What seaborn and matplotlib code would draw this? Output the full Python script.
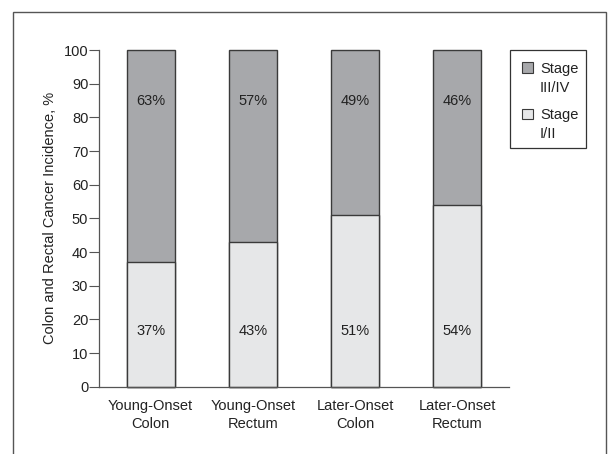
import matplotlib
matplotlib.use("Agg")
import matplotlib.pyplot as plt
import seaborn as sns
import pandas as pd
from matplotlib.patches import Rectangle

categories = ["Young-Onset\nColon", "Young-Onset\nRectum", "Later-Onset\nColon", "Later-Onset\nRectum"]
stage_early = [37, 43, 51, 54]      # Stage I/II
stage_late = [63, 57, 49, 46]       # Stage III/IV
yticks = [0, 10, 20, 30, 40, 50, 60, 70, 80, 90, 100]
legend_labels = ["Stage\nIII/IV", "Stage\nI/II"]

sns.set_theme(style="white")
plt.rcParams["font.family"] = ["Liberation Sans", "DejaVu Sans"]

dark = "#a7a8ab"
light = "#e6e7e8"
edge = "#3a3a3a"
txt = "#222222"

df = pd.DataFrame({"cat": categories,
                   "early": stage_early,
                   "late": stage_late})
df["total"] = df["early"] + df["late"]

W, H = 611, 454
fig = plt.figure(figsize=(W / 100, H / 100), dpi=100)
ax = fig.add_axes([99.4 / W, 1 - 386.7 / H, (508.6 - 99.4) / W, (386.7 - 50) / H])

sns.barplot(data=df, x="cat", y="total", color=dark, width=0.47, ax=ax,
            edgecolor=edge, linewidth=1.0, saturation=1)
sns.barplot(data=df, x="cat", y="early", color=light, width=0.47, ax=ax,
            edgecolor=edge, linewidth=1.0, saturation=1)
for p in ax.patches:
    p.set_clip_on(False)

for i, (e, l) in enumerate(zip(stage_early, stage_late)):
    ax.text(i, 85, f"{l}%", ha="center", va="center", fontsize=10.5, color=txt)
    ax.text(i, 16.5, f"{e}%", ha="center", va="center", fontsize=10.5, color=txt)

ax.set_xlim(-0.5, 3.5)
ax.set_ylim(0, 100)
ax.set_yticks(yticks)
ax.set_yticklabels([str(t) for t in yticks], fontsize=10.5, color=txt)
ax.tick_params(axis="y", direction="out", length=7, width=0.8, color="#555555", pad=1, left=True)
ax.tick_params(axis="x", length=0, labelsize=10.5, labelcolor=txt, pad=9)
for lab in ax.get_xticklabels():
    lab.set_linespacing(1.3)
ax.set_xlabel("")
ax.set_ylabel("Colon and Rectal Cancer Incidence, %", fontsize=10.5, color=txt, labelpad=5)
sns.despine(ax=ax)
for s in ["left", "bottom"]:
    ax.spines[s].set_color("#555555")
    ax.spines[s].set_linewidth(0.9)

# legend (drawn as a framed box with swatches and labels, pixel layout)
def px(x, y):
    return x / W, 1 - y / H

lx0, ly0, lx1, ly1 = 510.3, 50, 585.7, 148.3
fig.add_artist(Rectangle(px(lx0, ly1), (lx1 - lx0) / W, (ly1 - ly0) / H,
                         transform=fig.transFigure, facecolor="white",
                         edgecolor="#333333", linewidth=0.9))
for color, label, top, base in [(dark, legend_labels[0], 62.3, 92.3),
                                (light, legend_labels[1], 109.0, 138.3)]:
    fig.add_artist(Rectangle(px(522.3, top + 10.2), 11 / W, 10.2 / H,
                             transform=fig.transFigure, facecolor=color,
                             edgecolor=edge, linewidth=0.8))
    fig.text(*px(540, base), label, ha="left", va="baseline", fontsize=10.5,
             color=txt, linespacing=1.5)

fig.add_artist(Rectangle((13 / W, -0.1), (606 - 13) / W, 1.1 - 12 / H,
                         transform=fig.transFigure, fill=False,
                         edgecolor="#555555", linewidth=1.0))

fig.savefig("out.png", dpi=100, facecolor="white")
